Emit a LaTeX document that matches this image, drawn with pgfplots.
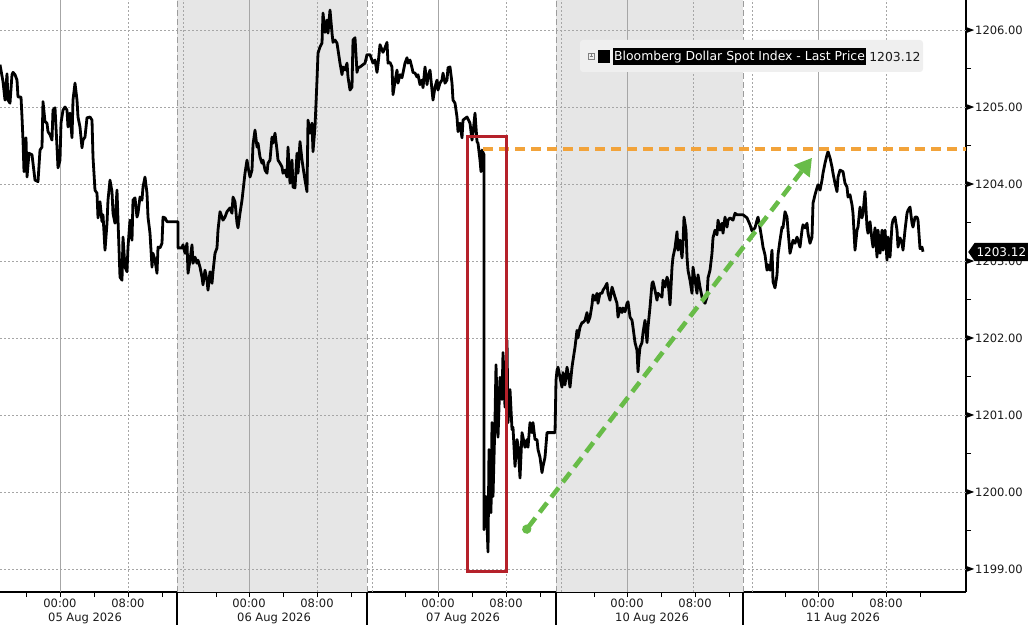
\documentclass[border=0pt]{standalone}
\usepackage{fontspec}
\setmainfont{DejaVu Sans}
\usepackage{pgfplots}
\pgfplotsset{compat=1.18}
\usetikzlibrary{shapes.symbols,arrows.meta}

\definecolor{sessbg}{HTML}{E6E6E6}
\definecolor{gridc}{HTML}{A6A6A6}
\definecolor{sepc}{HTML}{9C9C9C}
\definecolor{bbred}{HTML}{B5212A}
\definecolor{bborange}{HTML}{F2A33A}
\definecolor{bbgreen}{HTML}{68BC48}
\definecolor{legbg}{HTML}{EFEFEF}
\definecolor{labc}{HTML}{1A1A1A}

\newcommand{\tri}{\tikz[baseline=-0.36em]\fill[black] (0,-3bp)--(8bp,0)--(0,3bp)--cycle;\hspace{1bp}}
\newcommand{\lab}{\fontsize{11.5bp}{13bp}\selectfont}

\begin{document}
\begin{tikzpicture}
\begin{axis}[
  scale only axis, width=966bp, height=592bp,
  xmin=0, xmax=966, ymin=1198.70, ymax=1206.39,
  axis x line*=bottom, axis y line*=right,
  axis line style={-, black, line width=1.2bp},
  clip=false,
  xtick={26,60,94,128,162,216,249,283,317,351,405,438,472,506,540,594,627,661,695,729,785,818,852,886,920},
  xticklabels={,00:00,,08:00,,,00:00,,08:00,,,00:00,,08:00,,,00:00,,08:00,,,00:00,,08:00,},
  ytick={1199,1200,1201,1202,1203,1204,1205,1206},
  yticklabels={\tri1199.00,\tri1200.00,\tri1201.00,\tri1202.00,\tri1203.00,\tri1204.00,\tri1205.00,\tri1206.00},
  minor ytick={1199.5,1200.5,1201.5,1202.5,1203.5,1204.5,1205.5},
  tick align=outside,
  major tick length=5bp, minor tick length=5bp,
  major y tick style={draw=none},
  tick style={black, line width=1bp},
  ticklabel style={font=\lab, text=labc},
  xticklabel style={anchor=base, inner sep=0pt, yshift=-10bp},
  yticklabel style={anchor=west, inner sep=0pt, xshift=-5bp},
]

% trading-session shading
\fill[sessbg] (axis cs:177,1198.70) rectangle (axis cs:367,1206.39);
\fill[sessbg] (axis cs:556,1198.70) rectangle (axis cs:743,1206.39);

% grid
\pgfplotsinvokeforeach{1199,1200,1201,1202,1203,1204,1205,1206}{
  \draw[gridc, line width=0.8bp, dash pattern=on 2bp off 2bp] (axis cs:0,#1) -- (axis cs:966,#1);
}
\pgfplotsinvokeforeach{60,249,438,627,818}{
  \draw[gridc, line width=0.9bp] (axis cs:#1,1198.70) -- (axis cs:#1,1206.39);
}
\pgfplotsinvokeforeach{128,317,506,693,886,183,372,561,752}{
  \draw[gridc, line width=0.8bp, dash pattern=on 2bp off 2bp] (axis cs:#1,1198.70) -- (axis cs:#1,1206.39);
}
\pgfplotsinvokeforeach{177,367,556,743}{
  \draw[sepc, line width=1bp, dash pattern=on 6bp off 3bp] (axis cs:#1,1198.70) -- (axis cs:#1,1206.39);
}

\addplot[black, line width=2.8bp, line join=round, no marks] coordinates {
(0,1205.55) (3,1205.33) (5,1205.09) (7,1205.43) (8,1205.09) (10,1205.05) (12,1205.42) (13,1205.45)
(15,1205.42) (17,1205.35) (18,1205.13) (21,1205.13) (22,1204.87) (23,1204.57) (24,1204.16) (26,1204.60)
(27,1204.09) (29,1204.40) (32,1204.38) (33,1204.27) (35,1204.05) (38,1204.03) (40,1204.44) (42,1204.48)
(43,1205.07) (45,1204.81) (47,1204.79) (48,1204.68) (50,1204.64) (52,1204.57) (53,1204.96) (55,1204.99)
(57,1204.48) (58,1204.21) (60,1204.31) (61,1204.79) (63,1204.96) (65,1205.00) (67,1204.96) (68,1204.74)
(70,1204.92) (72,1204.60) (73,1205.09) (75,1205.31) (77,1205.09) (78,1204.87) (80,1204.74) (82,1204.47)
(83,1204.57) (85,1204.61) (87,1204.86) (90,1204.87) (92,1204.83) (93,1204.35) (95,1203.92) (97,1203.88)
(98,1203.56) (100,1203.77) (102,1203.51) (103,1203.60) (105,1203.14) (107,1203.49) (108,1203.79) (110,1204.05)
(112,1203.90) (113,1203.62) (115,1203.49) (117,1203.92) (118,1203.53) (120,1202.79) (122,1202.75) (123,1203.31)
(125,1202.92) (127,1202.86) (128,1203.18) (130,1203.53) (132,1203.27) (133,1203.79) (135,1203.82) (137,1203.57)
(138,1203.62) (140,1203.83) (142,1203.79) (143,1203.96) (145,1204.09) (147,1203.88) (148,1203.57) (150,1203.36)
(152,1202.92) (153,1203.10) (155,1203.01) (157,1202.84) (158,1203.18) (160,1203.17) (162,1203.23) (163,1203.57)
(165,1203.56) (167,1203.51) (178,1203.51) (178,1203.17) (182,1203.17) (183,1203.21) (185,1203.10) (187,1203.23)
(188,1202.84) (190,1203.01) (192,1203.21) (193,1202.97) (195,1203.05) (197,1202.97) (198,1203.01) (200,1202.92)
(202,1202.79) (203,1202.69) (205,1202.88) (207,1202.75) (208,1202.62) (210,1202.86) (212,1202.71) (213,1202.86)
(215,1203.10) (217,1203.17) (218,1203.40) (220,1203.64) (222,1203.57) (223,1203.53) (225,1203.57) (227,1203.64)
(230,1203.69) (232,1203.62) (233,1203.83) (235,1203.77) (237,1203.49) (238,1203.43) (240,1203.62) (242,1203.79)
(245,1204.14) (247,1204.31) (248,1204.22) (250,1204.09) (252,1204.18) (253,1204.51) (255,1204.70) (257,1204.48)
(258,1204.53) (260,1204.35) (262,1204.27) (263,1204.31) (265,1204.18) (267,1204.14) (268,1204.27) (270,1204.31)
(272,1204.61) (273,1204.53) (275,1204.66) (277,1204.44) (278,1204.31) (280,1204.27) (282,1204.22) (283,1204.14)
(285,1204.18) (287,1204.09) (288,1204.48) (290,1204.01) (292,1204.31) (293,1203.96) (295,1203.95) (297,1204.40)
(298,1204.14) (300,1204.55) (302,1204.31) (303,1204.22) (305,1204.05) (307,1203.90) (308,1204.83) (310,1204.66)
(312,1204.79) (313,1204.42) (315,1204.74) (317,1205.35) (318,1205.70) (320,1205.78) (322,1205.83) (323,1206.22)
(325,1205.97) (327,1206.13) (328,1205.96) (330,1206.26) (332,1205.96) (333,1205.84) (335,1205.87) (337,1205.83)
(340,1205.57) (342,1205.42) (343,1205.52) (345,1205.48) (347,1205.57) (348,1205.39) (350,1205.22) (352,1205.26)
(353,1205.87) (355,1205.90) (357,1205.45) (358,1205.51) (360,1205.52) (365,1205.57) (367,1205.68) (370,1205.68)
(373,1205.57) (375,1205.61) (377,1205.45) (378,1205.55) (380,1205.81) (383,1205.71) (385,1205.77) (387,1205.84)
(388,1205.57) (390,1205.58) (392,1205.52) (393,1205.16) (395,1205.33) (397,1205.48) (398,1205.31) (400,1205.42)
(402,1205.38) (405,1205.57) (407,1205.64) (408,1205.57) (410,1205.61) (412,1205.51) (413,1205.45) (415,1205.44)
(417,1205.39) (418,1205.42) (420,1205.29) (422,1205.35) (423,1205.25) (425,1205.52) (427,1205.29) (428,1205.39)
(430,1205.48) (432,1205.22) (433,1205.09) (435,1205.26) (437,1205.35) (438,1205.22) (440,1205.31) (442,1205.35)
(443,1205.44) (445,1205.31) (447,1205.35) (448,1205.51) (450,1205.52) (452,1205.31) (453,1205.09) (455,1205.05)
(457,1204.87) (458,1204.68) (460,1204.79) (462,1204.60) (463,1204.83) (467,1204.87) (470,1204.79) (472,1204.57)
(473,1204.66) (475,1204.92) (477,1204.55) (478,1204.53) (480,1204.31) (481,1204.16) (482,1204.44) (484,1204.38)
(484,1199.51) (486,1199.94) (488,1199.22) (489,1200.55) (491,1199.73) (492,1200.90) (493,1199.94) (495,1200.94)
(496,1201.65) (498,1200.71) (500,1201.49) (502,1201.20) (503,1201.81) (505,1201.10) (507,1201.97) (508,1200.90)
(510,1201.33) (512,1200.81) (513,1200.84) (515,1200.33) (517,1200.68) (518,1200.61) (520,1200.18) (522,1200.77)
(523,1200.71) (525,1200.58) (527,1200.68) (528,1200.58) (530,1200.90) (532,1200.77) (533,1200.90) (535,1200.68)
(537,1200.68) (538,1200.55) (540,1200.45) (542,1200.25) (543,1200.33) (545,1200.45) (547,1200.77) (555,1200.77)
(556,1201.45) (557,1201.58) (558,1201.62) (560,1201.49) (562,1201.36) (563,1201.55) (565,1201.39) (567,1201.62)
(568,1201.55) (570,1201.36) (572,1201.62) (573,1201.71) (575,1201.88) (577,1202.10) (578,1202.00) (580,1202.14)
(582,1202.20) (583,1202.20) (585,1202.23) (587,1202.33) (588,1202.20) (590,1202.27) (592,1202.43) (593,1202.56)
(595,1202.49) (597,1202.58) (598,1202.45) (600,1202.58) (602,1202.58) (603,1202.62) (605,1202.66) (607,1202.71)
(608,1202.58) (610,1202.49) (612,1202.66) (613,1202.62) (615,1202.53) (617,1202.45) (618,1202.27) (620,1202.39)
(622,1202.33) (623,1202.39) (625,1202.34) (627,1202.45) (628,1202.47) (630,1202.27) (632,1202.23) (633,1202.14)
(635,1201.94) (637,1201.84) (638,1201.56) (639,1201.75) (640,1201.88) (642,1201.94) (643,1202.07) (645,1202.23)
(647,1201.94) (648,1202.14) (650,1202.40) (652,1202.71) (653,1202.73) (655,1202.62) (657,1202.49) (658,1202.58)
(662,1202.53) (663,1202.75) (665,1202.66) (667,1202.79) (668,1202.75) (670,1202.43) (671,1202.66) (672,1202.92)
(673,1203.05) (675,1203.17) (677,1203.38) (678,1203.14) (680,1203.27) (682,1203.04) (683,1203.23) (684,1203.57)
(686,1203.40) (687,1203.05) (688,1202.88) (690,1202.75) (692,1202.58) (693,1202.92) (695,1202.75) (697,1202.58)
(698,1202.82) (700,1202.66) (702,1202.53) (703,1202.49) (705,1202.45) (707,1202.53) (708,1202.78) (710,1202.88)
(712,1203.10) (713,1203.30) (715,1203.40) (717,1203.34) (718,1203.53) (720,1203.40) (722,1203.49) (723,1203.36)
(725,1203.57) (727,1203.44) (728,1203.53) (730,1203.56) (733,1203.53) (735,1203.62) (737,1203.60) (743,1203.60)
(747,1203.56) (750,1203.47) (752,1203.39) (755,1203.43) (757,1203.53) (758,1203.57) (760,1203.43) (762,1203.27)
(763,1203.18) (765,1203.08) (767,1202.88) (768,1202.95) (770,1202.88) (772,1203.14) (773,1202.73) (775,1202.65)
(777,1202.82) (778,1203.08) (780,1203.27) (782,1203.44) (783,1203.43) (785,1203.64) (787,1203.57) (788,1203.40)
(790,1203.10) (792,1203.21) (793,1203.27) (795,1203.23) (797,1203.31) (798,1203.27) (800,1203.18) (802,1203.40)
(803,1203.47) (805,1203.43) (807,1203.49) (808,1203.36) (810,1203.23) (812,1203.31) (813,1203.75) (815,1203.86)
(817,1203.95) (818,1203.99) (820,1203.92) (822,1204.05) (823,1204.14) (825,1204.27) (827,1204.38) (828,1204.42)
(830,1204.34) (832,1204.22) (833,1204.14) (835,1204.01) (837,1203.90) (838,1204.09) (840,1204.18) (843,1204.16)
(845,1204.01) (847,1203.96) (848,1203.83) (850,1203.86) (852,1203.73) (853,1203.62) (855,1203.14) (857,1203.40)
(858,1203.44) (860,1203.70) (862,1203.56) (863,1203.62) (865,1203.90) (867,1203.44) (868,1203.36) (870,1203.51)
(872,1203.27) (873,1203.18) (875,1203.43) (877,1203.05) (878,1203.40) (880,1203.10) (882,1203.40) (883,1203.14)
(885,1203.40) (887,1203.01) (888,1203.31) (890,1203.05) (892,1203.47) (893,1203.53) (895,1203.57) (897,1203.40)
(898,1203.18) (900,1203.30) (902,1203.23) (903,1203.14) (905,1203.40) (907,1203.62) (908,1203.66) (910,1203.70)
(912,1203.49) (913,1203.44) (915,1203.57) (917,1203.57) (918,1203.53) (920,1203.16) (922,1203.18) (923,1203.12)
};

% annotations
\draw[bborange, line width=3.6bp, dash pattern=on 10bp off 6bp] (axis cs:483,1204.455) -- (axis cs:966,1204.455);
\draw[bbred, line width=3bp] (axis cs:467,1198.97) rectangle (axis cs:506,1204.62);
\draw[bbgreen, line width=4.6bp, dash pattern=on 12bp off 7bp,
  {Circle[length=9bp]}-{Triangle[length=17bp,width=19bp]}] (axis cs:524,1199.47) -- (axis cs:812,1204.34);
\end{axis}

\begin{scope}[x=1bp, y=-1bp, shift={(0,592bp)}]
  % long session ticks below the axis
  \foreach \s in {177,367,556,743} \draw[black, line width=1.2bp] (\s,592) -- (\s,625);
  % date labels
  \foreach \t/\d in {60/05 Aug 2026,249/06 Aug 2026,438/07 Aug 2026,627/10 Aug 2026,818/11 Aug 2026}
    \node[anchor=base west, inner sep=0pt, font=\lab, text=labc] at (\t-12,622) {\d};
  % last price tag
  \node[signal, signal to=west, signal pointer angle=110, fill=black, text=white, anchor=west,
        inner xsep=2bp, inner ysep=4.5bp, font=\fontsize{12bp}{14bp}\selectfont] at (968,252) {1203.12};
  % legend
  \fill[legbg, rounded corners=3bp] (580,40) rectangle (923,72);
  \draw[gray, line width=0.6bp] (588,53) rectangle (594,59);
  \draw[gray, line width=0.6bp] (591,54.5) -- (591,57.5) (589.5,56) -- (592.5,56);
  \fill[black] (598,50) rectangle (610,63);
  \node[fill=black, text=white, anchor=west, inner xsep=1bp, inner ysep=0pt, minimum height=17bp,
        font=\fontsize{12.4bp}{14bp}\selectfont] (leg) at (613,57) {Bloomberg Dollar Spot Index - Last Price};
  \node[anchor=west, inner sep=0pt, font=\fontsize{12.4bp}{14bp}\selectfont, text=labc] at ([xshift=3bp]leg.east) {1203.12};
\end{scope}

\pgfresetboundingbox
\path[use as bounding box] (0,-38bp) rectangle (1028bp,592bp);
\end{tikzpicture}
\end{document}
